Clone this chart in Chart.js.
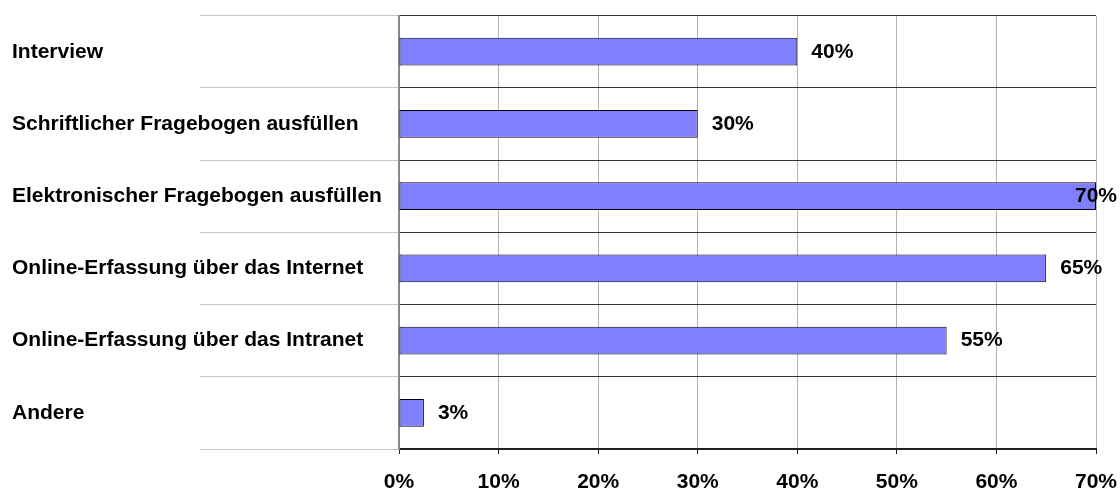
<!DOCTYPE html>
<html>
<head>
<meta charset="utf-8">
<script src="https://cdn.jsdelivr.net/npm/chart.js@4/dist/chart.umd.min.js"></script>
<style>
  body { margin: 0; background: #fff; }
  #wrap { width: 1120px; height: 492px; }
</style>
</head>
<body>
<div id="wrap"><canvas id="myChart" width="1120" height="492"></canvas></div>
<script>
// categories and values
var categories = [
    'Interview',
    'Schriftlicher Fragebogen ausfüllen',
    'Elektronischer Fragebogen ausfüllen',
    'Online-Erfassung über das Internet',
    'Online-Erfassung über das Intranet',
    'Andere'
]
var shares = [40, 30, 70, 65, 55, 2.5]
var xTicks = [0, 10, 20, 30, 40, 50, 60, 70]

var fontFamily = '"Liberation Sans", Arial, sans-serif'

// value labels next to the bar ends
var valueLabels = {
    id: 'valueLabels',
    afterDatasetsDraw: function(chart) {
        var ctx = chart.ctx
        var meta = chart.getDatasetMeta(0)
        ctx.save()
        ctx.font = 'bold 21px ' + fontFamily
        ctx.fillStyle = '#000'
        ctx.textBaseline = 'middle'
        ctx.textAlign = 'left'
        meta.data.forEach(function(bar, i) {
            var txt = Math.round(shares[i]) + '%'
            var w = ctx.measureText(txt).width
            var x = bar.x + 14
            if (x + w > chart.width - 3) x = chart.width - 3 - w
            ctx.fillText(txt, x, bar.y)
        })
        ctx.restore()
    }
}

var ctx = document.getElementById('myChart')

var myChart = new Chart(ctx, {
    type: 'bar',
    data: {
        labels: categories,
        datasets: [{
            data: shares,
            backgroundColor: '#8080ff',
            borderColor: '#000',
            borderWidth: 1,
            borderSkipped: false,
            categoryPercentage: 1,
            barPercentage: 0.385
        }]
    },
    options: {
        indexAxis: 'y',
        responsive: false,
        animation: false,
        devicePixelRatio: 1,
        layout: { padding: { left: 12, top: 13, right: 24, bottom: 0 } },
        plugins: {
            legend: { display: false },
            tooltip: { enabled: false }
        },
        scales: {
            x: {
                min: 0,
                max: 70,
                afterBuildTicks: function(scale) {
                    scale.ticks = xTicks.map(function(v) { return { value: v } })
                },
                afterFit: function(scale) {
                    scale.height = 43
                    scale.paddingLeft = 0
                    scale.paddingRight = 0
                },
                ticks: {
                    color: '#000',
                    font: { family: fontFamily, size: 21, weight: 'bold' },
                    padding: 16,
                    maxRotation: 0,
                    callback: function(v) { return v + '%' }
                },
                grid: {
                    color: '#b4b4b4',
                    lineWidth: 1,
                    tickColor: '#222',
                    tickLength: 5
                },
                border: { color: '#222', width: 2 }
            },
            y: {
                afterFit: function(scale) { scale.width = 387 },
                ticks: {
                    color: '#000',
                    crossAlign: 'far',
                    font: { family: fontFamily, size: 21, weight: 'bold' }
                },
                grid: {
                    offset: true,
                    color: '#333',
                    lineWidth: 1,
                    tickColor: '#c8c8c8',
                    tickLength: 199
                },
                border: { color: '#888', width: 2 }
            }
        }
    },
    plugins: [valueLabels]
})
</script>
</body>
</html>
